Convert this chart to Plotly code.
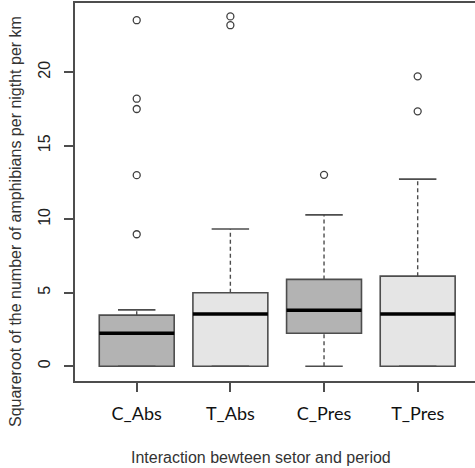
import plotly.graph_objects as go

categories = ["C_Abs", "T_Abs", "C_Pres", "T_Pres"]
q1 = [0.0, 0.0, 2.25, 0.0]
median = [2.25, 3.55, 3.82, 3.55]
q3 = [3.48, 5.0, 5.91, 6.13]
lower_whisker = [0.0, 0.0, 0.0, 0.0]
upper_whisker = [3.84, 9.34, 10.3, 12.73]
outliers = [
    [23.54, 18.2, 17.5, 13.0, 8.98],
    [23.8, 23.2],
    [13.02],
    [19.72, 17.34],
]
fill_colors = ["#b3b3b3", "#e5e5e5", "#b3b3b3", "#e5e5e5"]
y_ticks = [0, 5, 10, 15, 20]

BOX_W = 0.8
CAP_W = 0.4
LINE_C = "#4d4d4d"

fig = go.Figure()
for i, cat in enumerate(categories):
    x = i + 1
    # box body
    fig.add_trace(go.Box(
        x=[x], q1=[q1[i]], median=[median[i]], q3=[q3[i]],
        lowerfence=[q1[i]], upperfence=[q3[i]],
        width=BOX_W, whiskerwidth=0,
        fillcolor=fill_colors[i],
        line=dict(color=LINE_C, width=1.6),
        boxpoints=False, hoverinfo="skip", showlegend=False,
    ))
    # dashed whiskers
    for a, b in ((q3[i], upper_whisker[i]), (lower_whisker[i], q1[i])):
        if b > a:
            fig.add_trace(go.Scatter(
                x=[x, x], y=[a, b], mode="lines",
                line=dict(color=LINE_C, width=1.4, dash="4px,3px"),
                hoverinfo="skip", showlegend=False,
            ))
    # caps
    for v in (lower_whisker[i], upper_whisker[i]):
        fig.add_trace(go.Scatter(
            x=[x - CAP_W / 2, x + CAP_W / 2], y=[v, v], mode="lines",
            line=dict(color=LINE_C, width=1.6),
            hoverinfo="skip", showlegend=False,
        ))
    # median
    fig.add_trace(go.Scatter(
        x=[x - BOX_W / 2, x + BOX_W / 2], y=[median[i], median[i]], mode="lines",
        line=dict(color="#000000", width=3.5),
        hoverinfo="skip", showlegend=False,
    ))
    # outliers
    fig.add_trace(go.Scatter(
        x=[x] * len(outliers[i]), y=outliers[i], mode="markers",
        marker=dict(symbol="circle-open", size=7, color="#404040",
                    line=dict(width=1.3, color="#404040")),
        hoverinfo="skip", showlegend=False,
    ))

fig.update_layout(
    width=475, height=468,
    margin=dict(l=75, r=0, t=3, b=87),
    paper_bgcolor="white", plot_bgcolor="white",
    xaxis=dict(
        range=[0.341, 4.612], tickvals=[1, 2, 3, 4], ticktext=categories,
        ticks="outside", ticklen=9, tickwidth=1.5, tickcolor=LINE_C,
        showline=True, mirror=True, linecolor=LINE_C, linewidth=1.6,
        showgrid=False, zeroline=False, ticklabelstandoff=7,
        tickfont=dict(family="Lato", size=18, color="#111111"),
    ),
    yaxis=dict(
        range=[-1.0, 24.71], tickvals=y_ticks,
        ticks="outside", ticklen=9, tickwidth=1.5, tickcolor=LINE_C,
        showline=True, mirror=False, linecolor=LINE_C, linewidth=1.6,
        showgrid=False, zeroline=False, tickangle=-90, ticklabelstandoff=8,
        tickfont=dict(family="Liberation Sans", size=16, color="#222222"),
    ),
    annotations=[
        dict(text="Squareroot of the number of amphibians per nigtht per km",
             xref="paper", yref="paper", x=-0.15, y=0.4206, textangle=-90,
             showarrow=False, xanchor="center", yanchor="middle",
             font=dict(family="Liberation Sans", size=16, color="#333333")),
        dict(text="Interaction bewteen setor and period",
             xref="paper", yref="paper", x=0.465, y=-0.2037,
             showarrow=False, xanchor="center", yanchor="middle",
             font=dict(family="Liberation Sans", size=16, color="#333333")),
    ],
)

fig.write_html(
    "out.html",
    config={"displayModeBar": False},
    post_script="document.body.style.margin='0';"
                "document.documentElement.style.overflow='hidden';",
)
